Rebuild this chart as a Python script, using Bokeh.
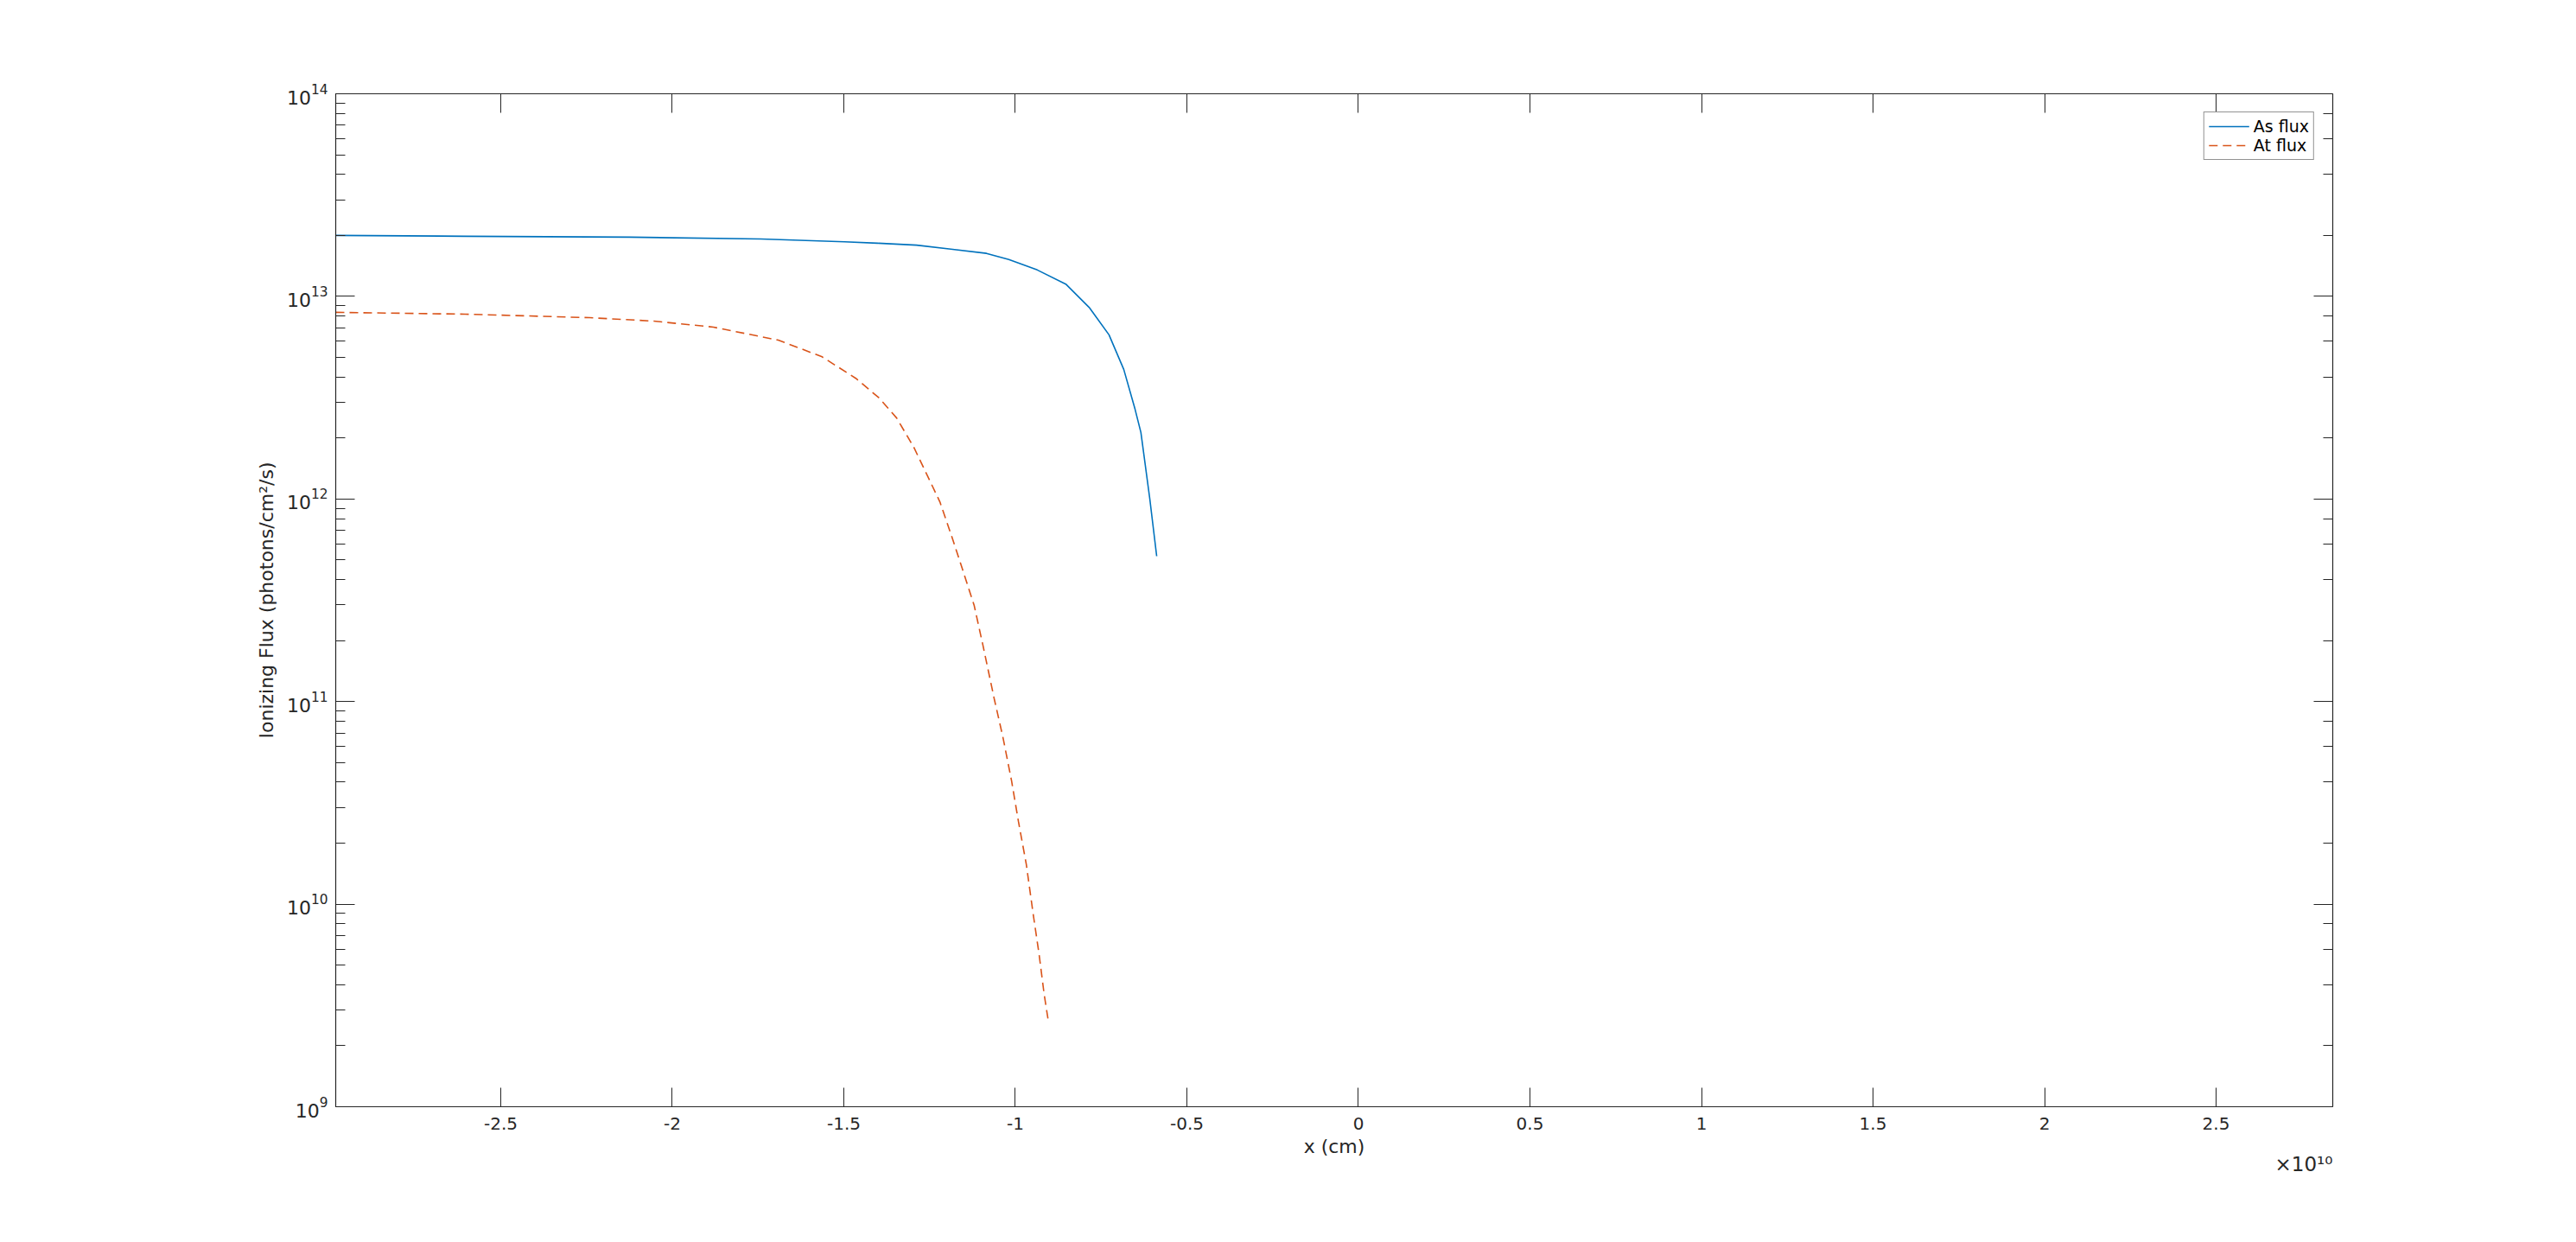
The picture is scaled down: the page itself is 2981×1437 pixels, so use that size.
from bokeh.plotting import figure
from bokeh.models import (Range1d, LinearAxis, LogAxis, FixedTicker, CustomJSTickFormatter,
                          Legend, LegendItem, Title)
from bokeh.embed import file_html
from bokeh.resources import INLINE

# ---------------- data ----------------
as_x = [-2.981e10, -2.604e10, -2.125e10, -1.742e10, -1.498e10, -1.402e10, -1.288e10,
        -1.188e10, -1.084e10, -1.019e10, -0.936e10, -0.853e10, -0.785e10, -0.727e10,
        -0.684e10, -0.651e10, -0.634e10, -0.608e10, -0.588e10]
as_flux = [2.00e13, 1.98e13, 1.96e13, 1.92e13, 1.86e13, 1.83e13, 1.79e13,
           1.71e13, 1.63e13, 1.52e13, 1.35e13, 1.15e13, 8.83e12, 6.46e12,
           4.36e12, 2.77e12, 2.13e12, 9.98e11, 5.22e11]

at_x = [-2.981e10, -2.604e10, -2.241e10, -2.054e10, -1.880e10, -1.691e10, -1.565e10,
        -1.465e10, -1.397e10, -1.346e10, -1.296e10, -1.256e10, -1.220e10, -1.188e10,
        -1.155e10, -1.120e10, -1.094e10, -1.062e10, -1.036e10, -1.011e10, -0.991e10,
        -0.968e10, -0.948e10, -0.931e10, -0.916e10, -0.903e10]
at_flux = [8.34e12, 8.17e12, 7.85e12, 7.55e12, 7.05e12, 6.08e12, 5.05e12,
           3.94e12, 3.15e12, 2.51e12, 1.80e12, 1.30e12, 9.68e11, 6.73e11,
           4.55e11, 2.98e11, 1.88e11, 1.04e11, 6.64e10, 4.06e10, 2.56e10,
           1.57e10, 8.93e9, 5.69e9, 3.59e9, 2.59e9]

x_ticks = [-2.5e10, -2.0e10, -1.5e10, -1.0e10, -0.5e10, 0.0, 0.5e10, 1.0e10, 1.5e10, 2.0e10, 2.5e10]
x_limits = (-2.981e10, 2.84e10)
y_limits = (1e9, 1e14)
x_label = "x (cm)"
y_label = "Ionizing Flux (photons/cm²/s)"
series_names = ["As flux", "At flux"]
exponent_label = "×10¹⁰"

# ---------------- styling ----------------
FONT = "DejaVu Sans"
AX_COLOR = "#262626"
FRAME_W, FRAME_H = 2311, 1172

p = figure(output_backend="svg", toolbar_location=None,
           frame_width=FRAME_W, frame_height=FRAME_H,
           min_border_left=388, min_border_right=266,
           min_border_top=108, min_border_bottom=141,
           x_range=Range1d(*x_limits), y_range=Range1d(*y_limits),
           y_axis_type="log", background_fill_color="white",
           border_fill_color="white", outline_line_color=None)
p.grid.visible = False

l1 = p.line(as_x, as_flux, line_color="#0072BD", line_width=1.6)
l2 = p.line(at_x, at_flux, line_color="#D95319", line_width=1.6, line_dash="10 6")

def style_axis(ax, labels=True, size="20px"):
    ax.axis_line_color = AX_COLOR
    ax.axis_line_width = 1.2
    ax.major_tick_line_color = AX_COLOR
    ax.minor_tick_line_color = AX_COLOR
    ax.major_tick_in = 22
    ax.major_tick_out = 0
    ax.minor_tick_in = 11
    ax.minor_tick_out = 0
    ax.major_label_text_font = FONT
    ax.major_label_text_font_size = size
    ax.major_label_text_color = AX_COLOR if labels else None
    ax.axis_label_text_font = FONT
    ax.axis_label_text_font_size = "22px"
    ax.axis_label_text_font_style = "normal"
    ax.axis_label_text_color = AX_COLOR

xfmt = CustomJSTickFormatter(code="return String(Math.round(tick / 1e8) / 100);")

xa = p.xaxis[0]
xa.ticker = FixedTicker(ticks=x_ticks, minor_ticks=[])
xa.formatter = xfmt
xa.axis_label = x_label
style_axis(xa)
xa.major_label_standoff = 12
xa.axis_label_standoff = 4

ya = p.yaxis[0]
ya.axis_label = y_label
style_axis(ya, size="22px")
ya.major_label_standoff = 9
ya.axis_label_standoff = 8

top = LinearAxis(ticker=FixedTicker(ticks=x_ticks, minor_ticks=[]), formatter=xfmt)
style_axis(top, labels=False)
p.add_layout(top, "above")

right = LogAxis()
style_axis(right, labels=False)
p.add_layout(right, "right")

legend = Legend(items=[LegendItem(label=series_names[0], renderers=[l1]),
                       LegendItem(label=series_names[1], renderers=[l2])],
                location="top_right", margin=21, padding=5, spacing=0,
                glyph_width=47, glyph_height=22, label_height=22, label_standoff=5,
                label_text_font=FONT, label_text_font_size="19px",
                label_text_color="black",
                border_line_color=AX_COLOR, border_line_width=1,
                background_fill_color="white", background_fill_alpha=1)
p.add_layout(legend, "center")

exp_title = Title(text=exponent_label, align="right", standoff=-36,
                  text_font=FONT, text_font_size="23px", text_font_style="normal",
                  text_color=AX_COLOR)
p.add_layout(exp_title, "below")

open("out.html", "w").write(file_html(p, INLINE))
